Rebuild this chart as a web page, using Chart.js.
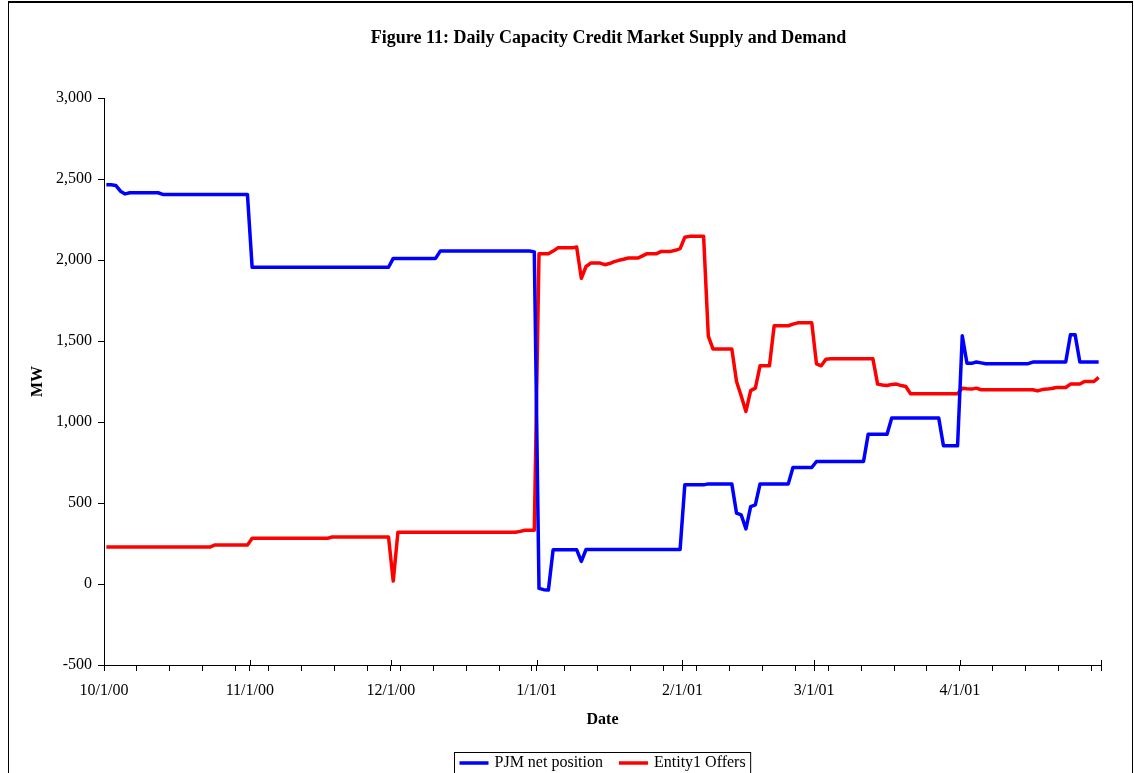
<!DOCTYPE html>
<html>
<head>
<meta charset="utf-8">
<script src="https://cdn.jsdelivr.net/npm/chart.js@4.4.0/dist/chart.umd.min.js"></script>
<style>
  html, body { margin: 0; padding: 0; background: #fff; overflow: hidden; }
  #wrap { position: relative; width: 1134px; height: 773px; }
  #frame { position: absolute; left: 8px; top: 1px; width: 1125px; height: 800px; border: 1px solid #000; border-top-width: 2px; box-sizing: border-box; pointer-events: none; }
  canvas { position: absolute; left: 0; top: 0; }
</style>
</head>
<body>
<div id="wrap">
  <canvas id="chart" width="1134" height="773"></canvas>
  <div id="frame"></div>
</div>
<script>
// daily values, 10/1/00 .. 4/30/01
const pjmNet = [
  2465, 2465, 2460, 2425, 2408, 2415, 2415, 2415, 2415, 2415, 2415, 2415,
  2405, 2405, 2405, 2405, 2405, 2405, 2405, 2405, 2405, 2405, 2405, 2405, 2405, 2405, 2405, 2405, 2405, 2405, 2405,
  1955, 1955, 1955, 1955, 1955, 1955, 1955, 1955, 1955, 1955, 1955, 1955, 1955, 1955, 1955,
  1955, 1955, 1955, 1955, 1955, 1955, 1955, 1955, 1955, 1955, 1955, 1955, 1955, 1955, 1955,
  2010, 2010, 2010, 2010, 2010, 2010, 2010, 2010, 2010, 2010,
  2055, 2055, 2055, 2055, 2055, 2055, 2055, 2055, 2055, 2055, 2055, 2055, 2055, 2055, 2055, 2055, 2055, 2055, 2055, 2055, 2050,
  -27, -35, -37,
  212, 212, 212, 212, 212, 212, 140,
  213, 213, 213, 213, 213, 213, 213, 213, 213, 213, 213, 213, 213, 213, 213, 213, 213, 213, 213, 213, 213,
  612, 612, 612, 612, 612,
  618, 618, 618, 618, 618, 618,
  437, 426, 340, 478, 488,
  618, 618, 618, 618, 618, 618, 618,
  719, 719, 719, 719, 719,
  756, 756, 756, 756, 756, 756, 756, 756, 756, 756, 756,
  925, 925, 925, 925, 925,
  1024, 1024, 1024, 1024, 1024, 1024, 1024, 1024, 1024, 1024, 1024,
  853, 853, 853, 853,
  1532, 1363, 1362, 1370, 1365,
  1360, 1360, 1360, 1360, 1360, 1360, 1360, 1360, 1360, 1360,
  1370, 1370, 1370, 1370, 1370, 1370, 1370, 1370,
  1538, 1538,
  1370, 1370, 1370, 1370, 1370
];

const entityOffers = [
  228, 228, 228, 228, 228, 228, 228, 228, 228, 228, 228, 228, 228, 228, 228, 228, 228, 228, 228, 228, 228, 228, 228,
  240, 240, 240, 240, 240, 240, 240, 240,
  282, 282, 282, 282, 282, 282, 282, 282, 282, 282, 282, 282, 282, 282, 282, 282, 282,
  290, 290, 290, 290, 290, 290, 290, 290, 290, 290, 290, 290, 290,
  18,
  320, 320, 320, 320, 320, 320, 320, 320, 320, 320, 320, 320, 320,
  320, 320, 320, 320, 320, 320, 320, 320, 320, 320, 320, 320, 320,
  325, 332, 332, 332,
  2039, 2039, 2039, 2055, 2075, 2075, 2075, 2075, 2080,
  1887, 1960, 1981, 1981, 1981, 1971, 1978, 1990, 1998, 2005,
  2012, 2012, 2012, 2025, 2039, 2039, 2039, 2053, 2053, 2053, 2060, 2070,
  2140, 2146, 2146, 2146, 2146,
  1530, 1450, 1450, 1450, 1450, 1450,
  1250, 1160, 1065, 1194, 1209,
  1347, 1347, 1347,
  1594, 1594, 1594, 1594, 1604, 1612, 1612, 1612, 1612,
  1359, 1347, 1388,
  1390, 1390, 1390, 1390, 1390, 1390, 1390, 1390, 1390, 1390,
  1234, 1228, 1225, 1232, 1234, 1225, 1219,
  1174, 1174, 1174, 1174, 1174, 1174, 1174, 1174, 1174, 1174, 1174,
  1209, 1205, 1203, 1209,
  1199, 1199, 1199, 1199, 1199, 1199, 1199, 1199, 1199, 1199, 1199, 1199,
  1192, 1200, 1203, 1207, 1213, 1213, 1213,
  1234, 1234, 1234, 1250, 1250, 1250, 1275
];

const monthStarts = ['2000-10-01', '2000-11-01', '2000-12-01', '2001-01-01', '2001-02-01', '2001-03-01', '2001-04-01', '2001-05-01'];
const tickLabels = ['10/1/00', '11/1/00', '12/1/00', '1/1/01', '2/1/01', '3/1/01', '4/1/01'];
const yTicks = { min: -500, max: 3000, step: 500 };

const DAY = 86400000;
const t0 = Date.parse(monthStarts[0]);
const monthDays = monthStarts.map(s => Math.round((Date.parse(s) - t0) / DAY));
const totalDays = monthDays[monthDays.length - 1];

// weekly minor ticks plus month starts
let tickDays = [];
for (let d = 0; d <= totalDays; d += 7) tickDays.push(d);
tickDays = Array.from(new Set(tickDays.concat(monthDays))).sort((a, b) => a - b);

const serif = '"Liberation Serif", "Times New Roman", serif';

// each daily value sits in the middle of its day
const toPoints = arr => arr.map((v, i) => ({ x: i + 0.5, y: v }));

const chartTitle = 'Figure 11: Daily Capacity Credit Market Supply and Demand';

const extras = {
  id: 'extras',
  afterDraw(chart) {
    const ctx = chart.ctx;
    const area = chart.chartArea;
    const xs = chart.scales.x;
    const cx = (area.left + area.right) / 2;
    ctx.save();

    // month ticks poke above the axis line
    ctx.strokeStyle = '#000';
    ctx.lineWidth = 1;
    monthDays.forEach(d => {
      const px = Math.round(xs.getPixelForValue(d)) + 0.5;
      ctx.beginPath();
      ctx.moveTo(px, area.bottom - 5);
      ctx.lineTo(px, area.bottom);
      ctx.stroke();
    });

    // title
    ctx.fillStyle = '#000';
    ctx.font = 'bold 18px ' + serif;
    ctx.textAlign = 'center';
    ctx.textBaseline = 'middle';
    ctx.fillText(chartTitle, cx + 6, 38);

    // legend with a box round it
    ctx.font = '16px ' + serif;
    const ds = chart.data.datasets;
    const lineLen = 29, gap = 6, itemGap = 16, pad = 5;
    const widths = ds.map(d => ctx.measureText(d.label).width);
    let total = pad * 2 + itemGap * (ds.length - 1);
    widths.forEach(w => { total += lineLen + gap + w; });
    const left = Math.round(cx - total / 2) + 0.5;
    const top = 752.5, ly = 763;
    ctx.lineWidth = 1;
    ctx.strokeStyle = '#000';
    ctx.strokeRect(left, top, total, 40);
    let x = left + pad;
    ctx.textAlign = 'left';
    ds.forEach((d, i) => {
      ctx.strokeStyle = d.borderColor;
      ctx.lineWidth = 3.5;
      ctx.beginPath();
      ctx.moveTo(x, ly);
      ctx.lineTo(x + lineLen, ly);
      ctx.stroke();
      x += lineLen + gap;
      ctx.fillStyle = '#000';
      ctx.fillText(d.label, x, ly);
      x += widths[i] + itemGap;
    });
    ctx.restore();
  }
};

new Chart(document.getElementById('chart'), {
  type: 'line',
  data: {
    datasets: [
      {
        label: 'PJM net position',
        data: toPoints(pjmNet),
        borderColor: '#0000FF',
        borderWidth: 3.5,
        borderJoinStyle: 'round',
        pointRadius: 0,
        tension: 0,
        fill: false
      },
      {
        label: 'Entity1 Offers',
        data: toPoints(entityOffers),
        borderColor: '#FF0000',
        borderWidth: 3.5,
        borderJoinStyle: 'round',
        pointRadius: 0,
        tension: 0,
        fill: false
      }
    ]
  },
  options: {
    responsive: false,
    animation: false,
    events: [],
    layout: { padding: { left: 0, top: 98, right: 33, bottom: 0 } },
    plugins: {
      legend: { display: false },
      title: { display: false },
      tooltip: { enabled: false }
    },
    scales: {
      x: {
        type: 'linear',
        min: 0,
        max: totalDays,
        afterBuildTicks: s => { s.ticks = tickDays.map(v => ({ value: v })); },
        afterFit: s => { s.height = 108; },
        ticks: {
          autoSkip: false,
          maxRotation: 0,
          padding: 10,
          color: '#000',
          font: { family: serif, size: 16 },
          callback: v => {
            const k = monthDays.indexOf(v);
            return k >= 0 && k < tickLabels.length ? tickLabels[k] : '';
          }
        },
        grid: { drawOnChartArea: false, drawTicks: true, tickLength: 6, color: '#000' },
        border: { color: '#000', width: 1 },
        title: {
          display: true,
          text: 'Date',
          color: '#000',
          font: { family: serif, size: 16, weight: 'bold' },
          padding: { top: 0, bottom: 44 }
        }
      },
      y: {
        min: yTicks.min,
        max: yTicks.max,
        afterFit: s => { s.width = 104; },
        ticks: {
          stepSize: yTicks.step,
          padding: 6,
          color: '#000',
          font: { family: serif, size: 16 },
          callback: v => v.toLocaleString('en-US')
        },
        grid: { drawOnChartArea: false, drawTicks: true, tickLength: 6, color: '#000' },
        border: { color: '#000', width: 1 },
        title: {
          display: true,
          text: 'MW',
          color: '#000',
          font: { family: serif, size: 16, weight: 'bold' },
          padding: { top: 28, bottom: 0 }
        }
      }
    }
  },
  plugins: [extras]
});
</script>
</body>
</html>
